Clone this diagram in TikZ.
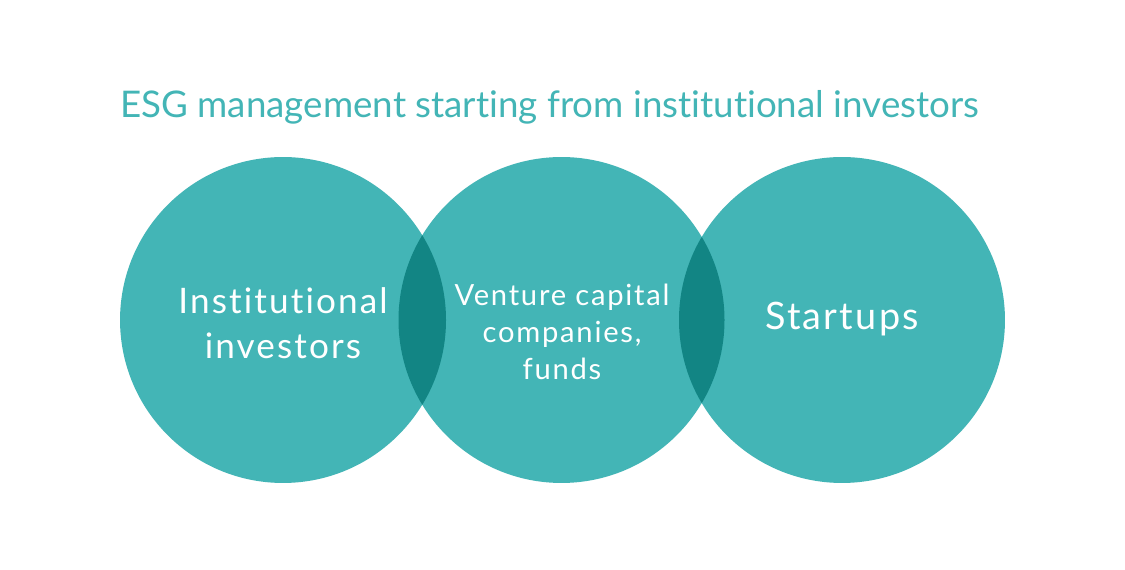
\documentclass[tikz,border=0pt]{standalone}
\usepackage{fontspec}
\setmainfont[Ligatures=NoCommon]{Lato}
\newfontfamily\spaced[LetterSpace=6, Ligatures=NoCommon]{Lato}
\usepackage{tikz}
\usetikzlibrary{positioning, calc}
\definecolor{esgteal}{HTML}{43B5B6}
\definecolor{overlapteal}{HTML}{128584}

\begin{document}
\begin{tikzpicture}[x=0.02cm, y=-0.02cm,
    ring/.style={circle, fill=esgteal, minimum size=6.52cm, inner sep=0pt},
    ringtext/.style={text=white, align=center, font=\spaced\fontsize{20}{25.6}\selectfont},
    smalltext/.style={text=white, align=center, font=\spaced\fontsize{16.6}{21}\selectfont}]
  \useasboundingbox[fill=white] (0,0) rectangle (1125,570);
  % Title
  \node[anchor=base west, inner sep=0pt, text=esgteal, font=\fontsize{20.9}{26}\selectfont]
    (title) at (120,118) {ESG management starting from institutional investors};
  % Three overlapping circles
  \foreach \name/\cx in {inst/283, vc/561.5, start/842} {
    \node[ring] (\name) at (\cx,320) {};
  }
  % Darker lenses where circles meet
  \foreach \a/\b in {inst/vc, vc/start} {
    \begin{scope}
      \clip (\a.center) circle (163);
      \fill[overlapteal] (\b.center) circle (163);
    \end{scope}
  }
  % Labels
  \node[ringtext] (insttext) at (283,323) {Institutional\\investors};
  \node[smalltext] (vctext) at (562,332) {Venture capital\\companies,\\funds};
  \node[ringtext, font=\spaced\fontsize{21.5}{26}\selectfont] (starttext) at (842,319) {Startups};
\end{tikzpicture}
\end{document}
